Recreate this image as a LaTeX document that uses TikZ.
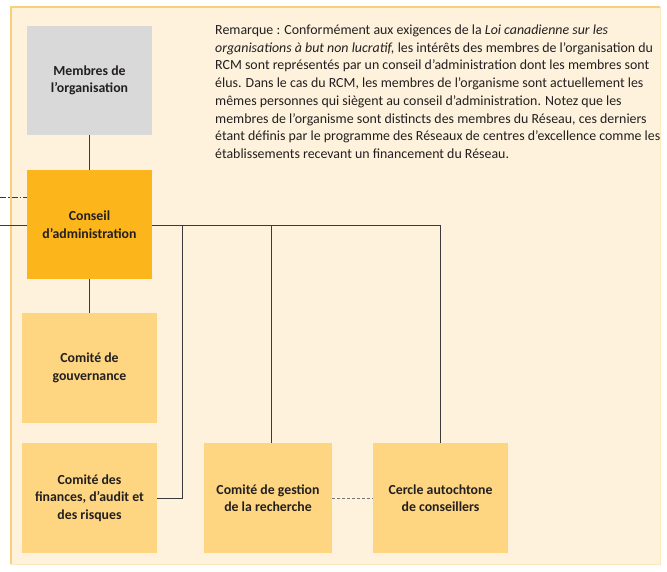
\documentclass[tikz,border=0pt]{standalone}
\usepackage{fontspec}
\setmainfont{Carlito}
\definecolor{panelbg}{HTML}{FEF2DC}
\definecolor{panelline}{HTML}{F7D079}
\definecolor{grayb}{HTML}{D9D9D9}
\definecolor{orangeb}{HTML}{FCB51A}
\definecolor{lightb}{HTML}{FED682}
\definecolor{txt}{HTML}{231F20}
\definecolor{conn}{HTML}{3A3A3A}
\begin{document}
\begin{tikzpicture}[x=1pt,y=-1pt,
  box/.style={draw=none,minimum width=#1,align=center,inner sep=0pt,
    font=\fontsize{13.8}{17.5}\selectfont\bfseries,text=txt},
  link/.style={draw=conn,line width=1pt},
]
\useasboundingbox (0,0) rectangle (667,571);
\fill[white] (0,0) rectangle (667,571);
\fill[panelbg] (11,7) rectangle (660,564);
\draw[panelline,line width=1.3pt] (11,564) -- (11,7) -- (660,7);
\draw[panelline!50,line width=0.8pt] (660,7) -- (660,564) -- (11,564);

\node[box=125pt,fill=grayb,minimum height=109pt] (mem) at (89.5,80.5) {Membres de\\l’organisation};
\node[box=125pt,fill=orangeb,minimum height=109pt] (ca) at (89.5,224.5) {Conseil\\d’administration};
\node[box=135pt,fill=lightb,minimum height=110pt] (gouv) at (89.5,368) {Comité de\\gouvernance};
\node[box=135pt,fill=lightb,minimum height=110pt] (fin) at (89.5,498) {Comité des\\finances, d’audit et\\des risques};
\node[box=128pt,fill=lightb,minimum height=110pt] (rech) at (268,498) {Comité de gestion\\de la recherche};
\node[box=135pt,fill=lightb,minimum height=110pt] (cerc) at (440.5,498) {Cercle autochtone\\de conseillers};

\node[anchor=north west,align=left,inner sep=0pt,text=txt,
  font=\fontsize{13.9}{17.75}\selectfont] (note) at (215,24.5) {%
Remarque : Conformément aux exigences de la \textit{Loi canadienne sur les}\\
\textit{organisations à but non lucratif,} les intérêts des membres de l’organisation du\\
RCM sont représentés par un conseil d’administration dont les membres sont\\
élus. Dans le cas du RCM, les membres de l’organisme sont actuellement les\\
mêmes personnes qui siègent au conseil d’administration. Notez que les\\
membres de l’organisme sont distincts des membres du Réseau, ces derniers\\
étant définis par le programme des Réseaux de centres d’excellence comme les\\
établissements recevant un financement du Réseau.};

\coordinate (inl) at (0,225);
\coordinate (ind) at (0,197);
\coordinate (j1) at (182,225);
\coordinate (j2) at (271,225);
\coordinate (j3) at (440,225);

\draw[link] (mem.south) -- (ca.north);
\draw[link] (ca.south) -- (gouv.north);
\draw[link] (inl) -- (ca.west |- inl);
\draw[conn,line width=0.9pt,dash pattern=on 6pt off 2pt on 1.5pt off 2pt] (ind) -- (ca.west |- ind);
\draw[link] (ca.east |- j1) -- (j3);
\draw[link] (j1) -- (j1 |- fin.east) -- (fin.east);
\draw[link] (j2) -- (j2 |- rech.north);
\draw[link] (j3) -- (j3 |- cerc.north);
\draw[conn!70,line width=1pt,dash pattern=on 3pt off 2pt] (rech.east) -- (cerc.west);
\end{tikzpicture}
\end{document}
